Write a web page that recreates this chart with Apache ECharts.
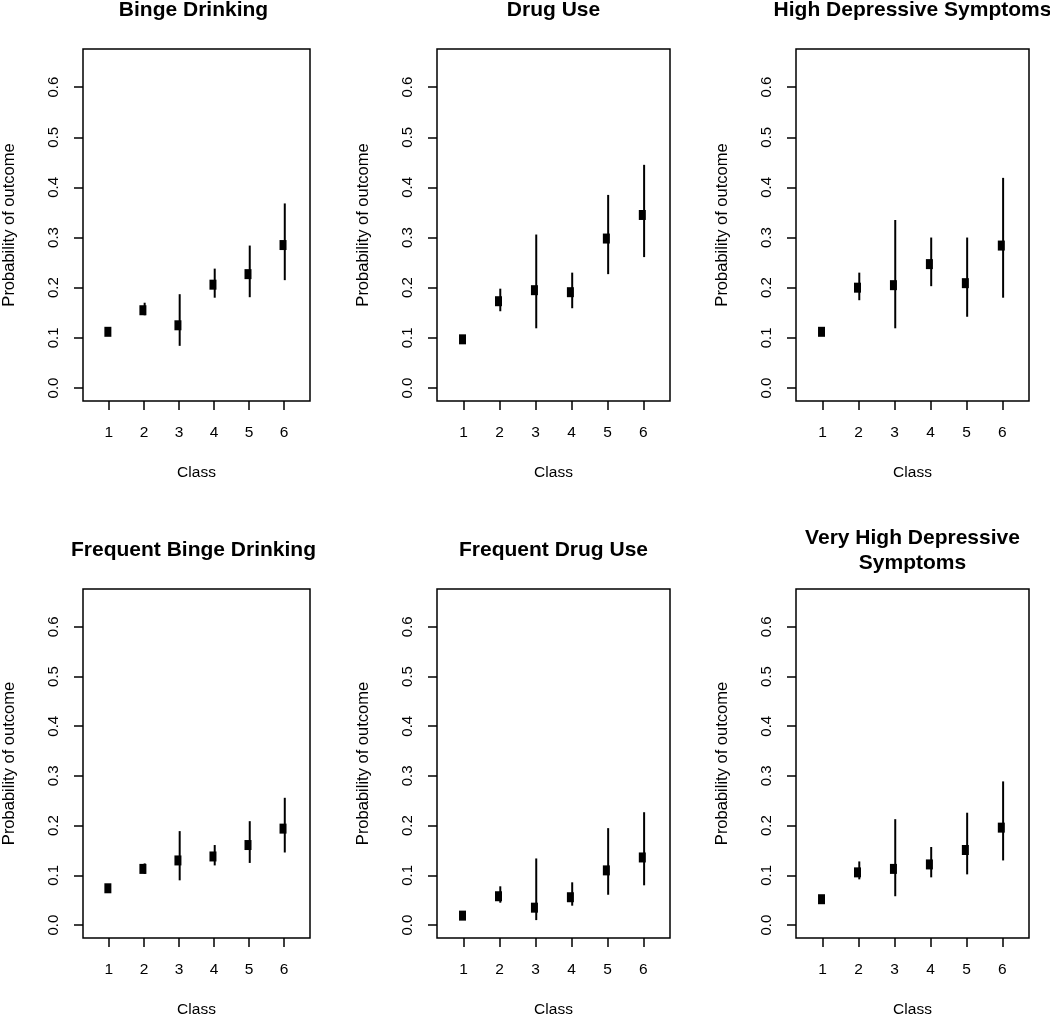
<!DOCTYPE html>
<html>
<head>
<meta charset="utf-8">
<script src="https://cdn.jsdelivr.net/npm/echarts@6/dist/echarts.min.js"></script>
<style>
html,body{margin:0;padding:0;background:#fff;}
#chart{width:1050px;height:1019px;}
</style>
</head>
<body>
<div id="chart"></div>
<script>
// ---- data ----
const classes = [1, 2, 3, 4, 5, 6];
const yTicks = [0, 0.1, 0.2, 0.3, 0.4, 0.5, 0.6];

const titles = [
  'Binge Drinking', 'Drug Use', 'High Depressive Symptoms',
  'Frequent Binge Drinking', 'Frequent Drug Use', 'Very High Depressive\nSymptoms'
];

const bingeEst = [0.112, 0.155, 0.125, 0.206, 0.227, 0.285];
const bingeLo  = [0.106, 0.145, 0.084, 0.180, 0.181, 0.215];
const bingeHi  = [0.118, 0.170, 0.187, 0.238, 0.284, 0.368];

const drugEst = [0.097, 0.173, 0.195, 0.191, 0.298, 0.345];
const drugLo  = [0.091, 0.153, 0.119, 0.159, 0.227, 0.261];
const drugHi  = [0.103, 0.198, 0.306, 0.230, 0.385, 0.445];

const depEst = [0.112, 0.200, 0.205, 0.247, 0.209, 0.284];
const depLo  = [0.106, 0.175, 0.119, 0.203, 0.142, 0.180];
const depHi  = [0.118, 0.230, 0.335, 0.300, 0.300, 0.419];

const freqBingeEst = [0.074, 0.113, 0.130, 0.138, 0.161, 0.194];
const freqBingeLo  = [0.068, 0.103, 0.090, 0.120, 0.125, 0.146];
const freqBingeHi  = [0.080, 0.124, 0.189, 0.161, 0.209, 0.256];

const freqDrugEst = [0.019, 0.058, 0.035, 0.056, 0.110, 0.136];
const freqDrugLo  = [0.014, 0.045, 0.010, 0.039, 0.061, 0.080];
const freqDrugHi  = [0.024, 0.078, 0.134, 0.086, 0.195, 0.227];

const vhDepEst = [0.052, 0.106, 0.113, 0.122, 0.151, 0.196];
const vhDepLo  = [0.047, 0.092, 0.058, 0.096, 0.102, 0.130];
const vhDepHi  = [0.057, 0.128, 0.213, 0.157, 0.226, 0.289];

const panels = [
  [bingeEst, bingeLo, bingeHi],
  [drugEst, drugLo, drugHi],
  [depEst, depLo, depHi],
  [freqBingeEst, freqBingeLo, freqBingeHi],
  [freqDrugEst, freqDrugLo, freqDrugHi],
  [vhDepEst, vhDepLo, vhDepHi]
];

// ---- layout ----
const FONT = '"Liberation Sans", Arial, Helvetica, sans-serif';
const colLeft = [77, 437, 796];
const rowTop = [49, 589];
const W = 233, H = 352;
const PT_OFF = -0.03, BAR_OFF = 0.02;

const grids = [], xAxes = [], yAxes = [], series = [], titleOpts = [];
panels.forEach((p, i) => {
  const r = Math.floor(i / 3), c = i % 3;
  grids.push({
    left: colLeft[c], top: rowTop[r], width: W, height: H,
    show: true, borderColor: '#000', borderWidth: 1.5, backgroundColor: 'transparent'
  });
  xAxes.push({
    gridIndex: i, type: 'value', min: 0.26, max: 6.74, position: 'bottom',
    name: 'Class', nameLocation: 'middle', nameGap: 64,
    nameTextStyle: { fontFamily: FONT, fontSize: 15.5, color: '#000' },
    axisLine: { show: false, onZero: false },
    splitLine: { show: false },
    axisTick: { show: true, inside: false, customValues: classes, length: 9, lineStyle: { color: '#000', width: 1.5 } },
    axisLabel: { customValues: classes, margin: 24, fontFamily: FONT, fontSize: 15.5, color: '#000' }
  });
  yAxes.push({
    gridIndex: i, type: 'value', min: -0.026, max: 0.676, position: 'left',
    name: 'Probability of outcome', nameLocation: 'middle', nameGap: 65,
    nameTextStyle: { fontFamily: FONT, fontSize: 16.5, color: '#000' },
    axisLine: { show: false, onZero: false },
    splitLine: { show: false },
    axisTick: { show: true, inside: false, customValues: yTicks, length: 9, lineStyle: { color: '#000', width: 1.5 } },
    axisLabel: { customValues: yTicks, rotate: 90, margin: 22, fontFamily: FONT, fontSize: 15, color: '#000',
      formatter: v => Number(v).toFixed(1) }
  });
  const [est, lo, hi] = p;
  series.push({
    type: 'custom', xAxisIndex: i, yAxisIndex: i,
    data: classes.map((k, j) => [k + BAR_OFF, lo[j], hi[j]]),
    encode: { x: 0, y: [1, 2] },
    renderItem: (params, api) => {
      const x = api.value(0);
      const a = api.coord([x, api.value(1)]);
      const b = api.coord([x, api.value(2)]);
      return { type: 'line', shape: { x1: a[0], y1: a[1], x2: b[0], y2: b[1] },
        style: { stroke: '#000', lineWidth: 2 } };
    },
    silent: true, animation: false, z: 2
  });
  series.push({
    type: 'scatter', xAxisIndex: i, yAxisIndex: i,
    symbol: 'rect', symbolSize: [7, 10],
    itemStyle: { color: '#000', opacity: 1 },
    data: classes.map((k, j) => [k + PT_OFF, est[j]]),
    silent: true, animation: false, z: 3
  });
  const twoLine = titles[i].indexOf('\n') >= 0;
  titleOpts.push({
    text: titles[i], left: colLeft[c] + W / 2, textAlign: 'center', padding: 0,
    top: r === 0 ? -2 : (twoLine ? 526 : 538),
    textStyle: { fontFamily: FONT, fontWeight: 'bold', fontSize: 21, color: '#000', lineHeight: 25 }
  });
});

const chart = echarts.init(document.getElementById('chart'), null, { renderer: 'canvas' });
chart.setOption({
  backgroundColor: '#fff',
  animation: false,
  title: titleOpts,
  grid: grids,
  xAxis: xAxes,
  yAxis: yAxes,
  series: series
});
</script>
</body>
</html>
